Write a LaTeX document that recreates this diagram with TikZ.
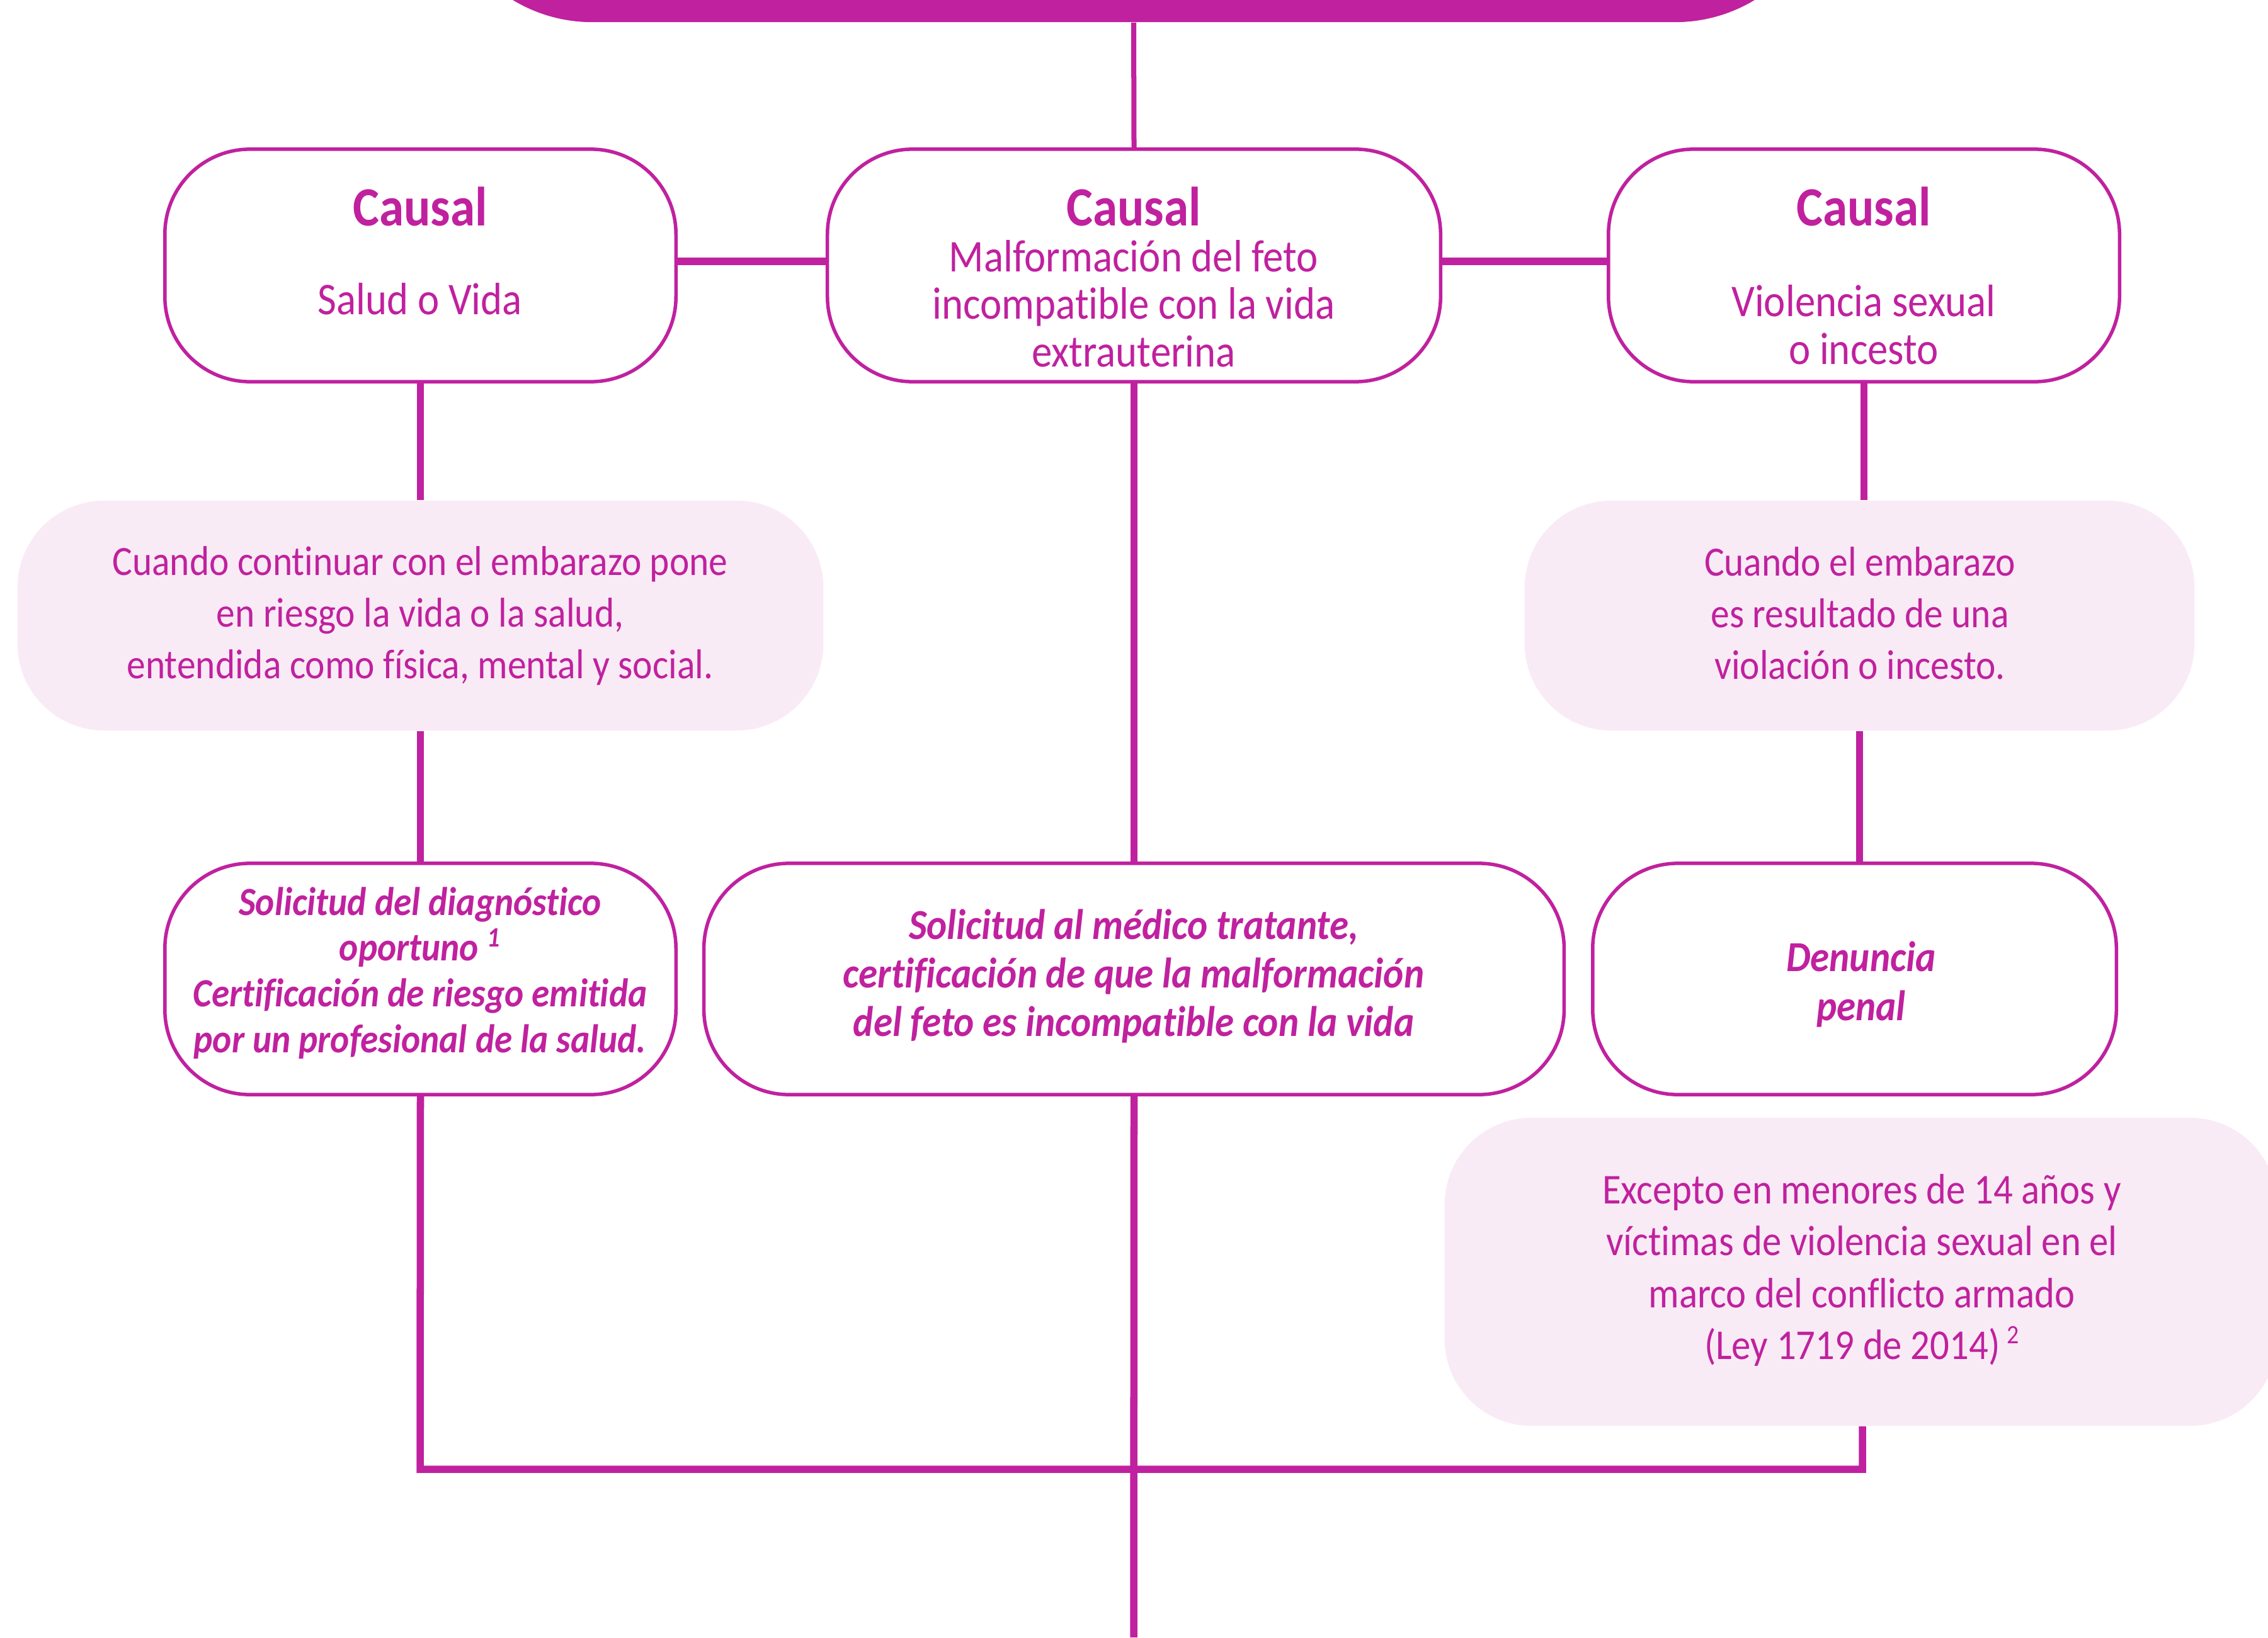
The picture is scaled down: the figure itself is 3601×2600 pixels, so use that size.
\documentclass[tikz,border=0pt]{standalone}
\usepackage{fontspec}
\setmainfont[FakeStretch=0.9,Ligatures=NoCommon]{Carlito}
\definecolor{mag}{HTML}{C0219F}
\definecolor{pinkbg}{HTML}{F9EBF5}
\tikzset{
  wbox/.style={draw=mag, line width=0.055cm, fill=white, rounded corners=1.35cm, inner sep=0pt},
  pbox/.style={fill=pinkbg, draw=none, rounded corners=1.38cm, inner sep=0pt},
  conn/.style={draw=mag, line width=0.115cm},
  thinconn/.style={draw=mag, line width=0.08cm},
  bar/.style={fill=mag, draw=none, rounded corners=2.44cm, inner sep=0pt},
  ttl/.style={text=mag, font={\fontsize{25}{28}\selectfont\bfseries}},
  body/.style={text=mag, align=center, font={\fontsize{20.5}{21.5}\selectfont}},
  pbody/.style={text=mag, align=center, font={\fontsize{18.8}{23.4}\selectfont}},
  ibody/.style={text=mag, align=center, font={\fontsize{18.1}{20.7}\selectfont\bfseries\itshape}}
}
\begin{document}
\begin{tikzpicture}[x=0.01cm,y=-0.01cm]
\useasboundingbox (0,0) rectangle (3601,2600);
% header bar
\node[bar, minimum width=22.06cm, minimum height=6.35cm] (top) at (1800,-282.5) {};
% row 1
\node[wbox, minimum width=8.11cm, minimum height=3.69cm] (a1) at (667.5,421.5) {};
\node[wbox, minimum width=9.73cm, minimum height=3.69cm] (b1) at (1800.5,421.5) {};
\node[wbox, minimum width=8.11cm, minimum height=3.69cm] (c1) at (2959.5,421.5) {};
% row 2
\node[pbox, minimum width=12.79cm, minimum height=3.65cm] (pa) at (667.5,977.5) {};
\node[pbox, minimum width=10.63cm, minimum height=3.65cm] (pc) at (2952.5,977.5) {};
% row 3
\node[wbox, minimum width=8.11cm, minimum height=3.67cm] (a3) at (667.5,1554.5) {};
\node[wbox, minimum width=13.65cm, minimum height=3.67cm] (b3) at (1800.5,1554.5) {};
\node[wbox, minimum width=8.31cm, minimum height=3.67cm] (c3) at (2944.5,1554.5) {};
% pink D
\node[pbox, minimum width=13.21cm, minimum height=4.89cm] (pd) at (2954.5,2019.5) {};
% coordinates
\coordinate (jl) at (667,2333);
\coordinate (jr) at (2957,2333);
\coordinate (endb) at (1800,2600);
% connectors
\draw[thinconn] (top.south) -- (b1.north);
\draw[conn] (a1.east |- 0,415) -- (b1.west |- 0,415);
\draw[conn] (b1.east |- 0,415) -- (c1.west |- 0,415);
\draw[conn] (a1.south) -- (pa.north);
\draw[conn] (pa.south) -- (a3.north);
\draw[conn] (b1.south) -- (b3.north);
\draw[conn] (c1.south) -- (c1.south |- pc.north);
\draw[conn] (pc.south) -- (pc.south |- c3.north);
\draw[conn] (a3.south) -- (jl) -- (jr) -- (jr |- pd.south);
\draw[conn] (b3.south) -- (endb);
% texts row 1
\node[ttl] (ta1) at (667,328) {Causal};
\node[body] (sa1) at (667,475) {Salud o Vida};
\node[ttl] (tb1) at (1800,328) {Causal};
\node[body] (sb1) at (1800,482) {Malformación del feto\\incompatible con la vida\\extrauterina};
\node[ttl] (tc1) at (2959,328) {Causal};
\node[body] (sc1) at (2959,516) {Violencia sexual\\o incesto};
% pink texts
\node[pbody] (tpa) at (667,978) {Cuando continuar con el embarazo pone\\en riesgo la vida o la salud,\\entendida como física, mental y social.};
\node[pbody] (tpc) at (2953,974) {Cuando el embarazo\\es resultado de una\\violación o incesto.};
% row 3 texts
\node[ibody] (ta3) at (667,1545) {Solicitud del diagnóstico\\oportuno \textsuperscript{1}\\Certificación de riesgo emitida\\por un profesional de la salud.};
\node[ibody, font={\fontsize{19.3}{21.9}\selectfont\bfseries\itshape}] (tb3) at (1800,1550) {Solicitud al médico tratante,\\certificación de que la malformación\\del feto es incompatible con la vida};
\node[ibody, font={\fontsize{19.3}{21.9}\selectfont\bfseries\itshape}] (tc3) at (2955,1563) {Denuncia\\penal};
% pink D text
\node[pbody, font={\fontsize{19.2}{23.5}\selectfont}] (tpd) at (2956,2017) {Excepto en menores de 14 años y\\víctimas de violencia sexual en el\\marco del conflicto armado\\(Ley 1719 de 2014)\,{\fontsize{12}{12}\selectfont\raisebox{0.6em}{2}}};
\end{tikzpicture}
\end{document}
